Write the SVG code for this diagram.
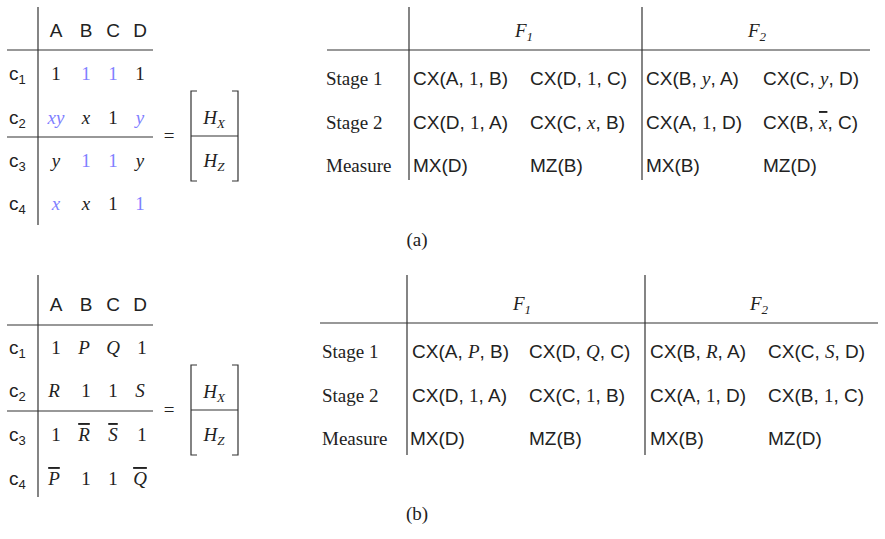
<svg xmlns="http://www.w3.org/2000/svg" width="885" height="539" viewBox="0 0 885 539">
<style>
text{font-size:19px;fill:#222}
.s{font-family:"Liberation Sans",sans-serif}
.r{font-family:"Liberation Serif",serif}
.i{font-family:"Liberation Serif",serif;font-style:italic}
.b{fill:#8080ff}
.m{text-anchor:middle}
.sub{font-size:13px}
.ln{stroke:#333;stroke-width:1.2;fill:none}
.ol{text-decoration:overline}
</style>
<rect width="885" height="539" fill="#fff"/>
<g id="matrix-a">
<line class="ln" x1="38" y1="7" x2="38" y2="225"/>
<line class="ln" x1="7" y1="50" x2="153" y2="50"/>
<line class="ln" x1="7" y1="137" x2="153" y2="137"/>
<g class="s m"><text x="56" y="37">A</text><text x="86" y="37">B</text><text x="113" y="37">C</text><text x="140" y="37">D</text></g>
<g class="s"><text x="9" y="80">c<tspan class="sub" dy="4">1</tspan></text><text x="9" y="124">c<tspan class="sub" dy="4">2</tspan></text><text x="9" y="167">c<tspan class="sub" dy="4">3</tspan></text><text x="9" y="210">c<tspan class="sub" dy="4">4</tspan></text></g>
<g class="m">
<text class="r" x="56" y="80">1</text><text class="r b" x="86" y="80">1</text><text class="r b" x="113" y="80">1</text><text class="r" x="140" y="80">1</text>
<text class="i b" x="56" y="124">xy</text><text class="i" x="86" y="124">x</text><text class="r" x="113" y="124">1</text><text class="i b" x="140" y="124">y</text>
<text class="i" x="56" y="167">y</text><text class="r b" x="86" y="167">1</text><text class="r b" x="113" y="167">1</text><text class="i" x="140" y="167">y</text>
<text class="i b" x="56" y="210">x</text><text class="i" x="86" y="210">x</text><text class="r" x="113" y="210">1</text><text class="r b" x="140" y="210">1</text>
</g>
<text class="r m" x="169" y="142">=</text>
<path class="ln" d="M197,91H191V181H197M232,91H238V181H232"/>
<line class="ln" x1="191" y1="136" x2="238" y2="136"/>
<text class="i m" x="214" y="124">H<tspan class="sub" dy="4">X</tspan></text>
<text class="i m" x="214" y="167">H<tspan class="sub" dy="4">Z</tspan></text>
</g>
<g id="table-a">
<line class="ln" x1="409" y1="7" x2="409" y2="180"/>
<line class="ln" x1="642" y1="7" x2="642" y2="180"/>
<line class="ln" x1="327" y1="50" x2="870" y2="50"/>
<text class="i m" x="524" y="37">F<tspan class="sub" dy="4">1</tspan></text>
<text class="i m" x="757" y="37">F<tspan class="sub" dy="4">2</tspan></text>
<g class="r"><text x="326" y="85">Stage 1</text><text x="326" y="129">Stage 2</text><text x="326" y="172">Measure</text></g>
<g class="s">
<text x="413" y="85">CX(A, <tspan class="r">1</tspan>, B)</text>
<text x="530" y="85">CX(D, <tspan class="r">1</tspan>, C)</text>
<text x="646" y="85">CX(B, <tspan class="i">y</tspan>, A)</text>
<text x="763" y="85">CX(C, <tspan class="i">y</tspan>, D)</text>
<text x="413" y="129">CX(D, <tspan class="r">1</tspan>, A)</text>
<text x="530" y="129">CX(C, <tspan class="i">x</tspan>, B)</text>
<text x="646" y="129">CX(A, <tspan class="r">1</tspan>, D)</text>
<text x="763" y="129">CX(B, <tspan class="i ol">x</tspan>, C)</text>
<text x="413" y="172">MX(D)</text><text x="530" y="172">MZ(B)</text>
<text x="646" y="172">MX(B)</text><text x="763" y="172">MZ(D)</text>
</g>
<text class="r m" x="417" y="246">(a)</text>
</g>
<g id="matrix-b">
<line class="ln" x1="38" y1="275" x2="38" y2="497"/>
<line class="ln" x1="7" y1="325" x2="153" y2="325"/>
<line class="ln" x1="7" y1="411" x2="153" y2="411"/>
<g class="s m"><text x="56" y="311">A</text><text x="86" y="311">B</text><text x="113" y="311">C</text><text x="140" y="311">D</text></g>
<g class="s"><text x="9" y="354">c<tspan class="sub" dy="4">1</tspan></text><text x="9" y="397">c<tspan class="sub" dy="4">2</tspan></text><text x="9" y="441">c<tspan class="sub" dy="4">3</tspan></text><text x="9" y="485">c<tspan class="sub" dy="4">4</tspan></text></g>
<g class="m">
<text class="r" x="56" y="354">1</text><text class="i" x="84" y="354">P</text><text class="i" x="113" y="354">Q</text><text class="r" x="142" y="354">1</text>
<text class="i" x="54" y="397">R</text><text class="r" x="86" y="397">1</text><text class="r" x="113" y="397">1</text><text class="i" x="140" y="397">S</text>
<text class="r" x="56" y="441">1</text><text class="i ol" x="84" y="441">R</text><text class="i ol" x="113" y="441">S</text><text class="r" x="142" y="441">1</text>
<text class="i ol" x="54" y="485">P</text><text class="r" x="86" y="485">1</text><text class="r" x="113" y="485">1</text><text class="i ol" x="140" y="485">Q</text>
</g>
<text class="r m" x="169" y="416">=</text>
<path class="ln" d="M197,365H191V455H197M232,365H238V455H232"/>
<line class="ln" x1="191" y1="410" x2="238" y2="410"/>
<text class="i m" x="214" y="398">H<tspan class="sub" dy="4">X</tspan></text>
<text class="i m" x="214" y="441">H<tspan class="sub" dy="4">Z</tspan></text>
</g>
<g id="table-b">
<line class="ln" x1="407" y1="275" x2="407" y2="455"/>
<line class="ln" x1="645" y1="275" x2="645" y2="455"/>
<line class="ln" x1="320" y1="323" x2="878" y2="323"/>
<text class="i m" x="522" y="310">F<tspan class="sub" dy="4">1</tspan></text>
<text class="i m" x="759" y="310">F<tspan class="sub" dy="4">2</tspan></text>
<g class="r"><text x="322" y="358">Stage 1</text><text x="322" y="402">Stage 2</text><text x="322" y="445">Measure</text></g>
<g class="s">
<text x="412" y="358">CX(A, <tspan class="i">P</tspan>, B)</text>
<text x="529" y="358">CX(D, <tspan class="i">Q</tspan>, C)</text>
<text x="650" y="358">CX(B, <tspan class="i">R</tspan>, A)</text>
<text x="768" y="358">CX(C, <tspan class="i">S</tspan>, D)</text>
<text x="412" y="402">CX(D, <tspan class="r">1</tspan>, A)</text>
<text x="529" y="402">CX(C, <tspan class="r">1</tspan>, B)</text>
<text x="650" y="402">CX(A, <tspan class="r">1</tspan>, D)</text>
<text x="768" y="402">CX(B, <tspan class="r">1</tspan>, C)</text>
<text x="410" y="445">MX(D)</text><text x="529" y="445">MZ(B)</text>
<text x="650" y="445">MX(B)</text><text x="768" y="445">MZ(D)</text>
</g>
<text class="r m" x="417" y="520">(b)</text>
</g>
</svg>
